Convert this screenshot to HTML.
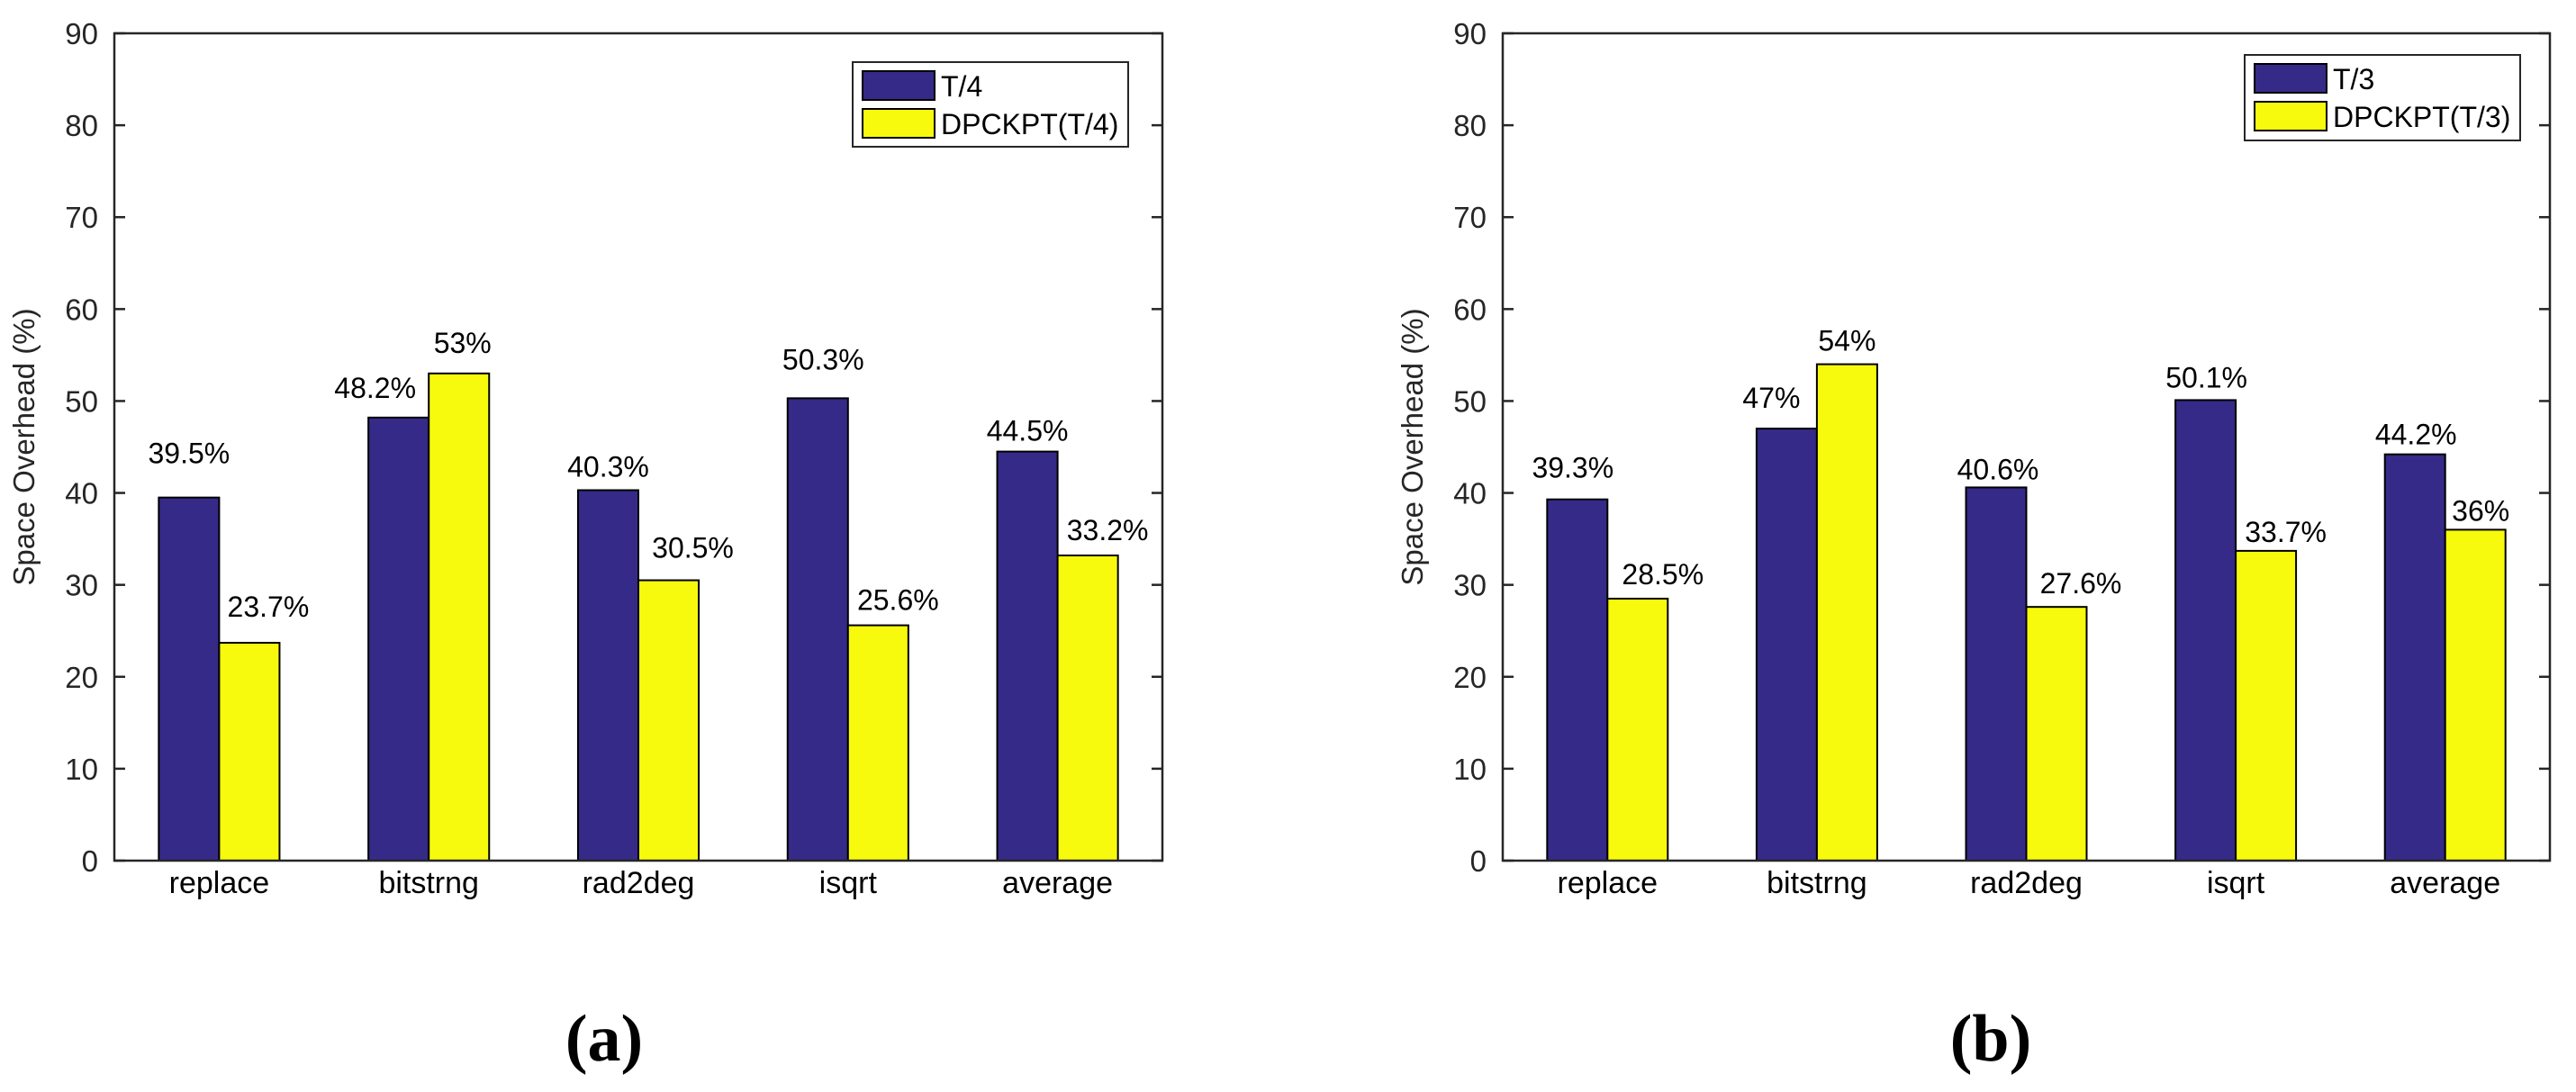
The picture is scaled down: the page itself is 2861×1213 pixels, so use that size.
<!DOCTYPE html>
<html><head><meta charset="utf-8"><style>
html,body{margin:0;padding:0;background:#fff;}
svg{display:block;}
text{font-family:"Liberation Sans",sans-serif;}
</style></head><body>
<svg id="chart" width="2861" height="1213" viewBox="0 0 2861 1213" xmlns="http://www.w3.org/2000/svg"></svg>
<script>
const categories = ["replace","bitstrng","rad2deg","isqrt","average"];
const seriesA1 = [39.5,48.2,40.3,50.3,44.5];
const seriesA2 = [23.7,53,30.5,25.6,33.2];
const seriesB1 = [39.3,47,40.6,50.1,44.2];
const seriesB2 = [28.5,54,27.6,33.7,36];
const yTicks = [0,10,20,30,40,50,60,70,80,90];
const legendA = ["T/4","DPCKPT(T/4)"];
const legendB = ["T/3","DPCKPT(T/3)"];

const NS="http://www.w3.org/2000/svg";
const svgRoot=document.getElementById('chart');
function mk(tag,attrs,parent){const e=document.createElementNS(NS,tag);for(const k in attrs)e.setAttribute(k,attrs[k]);(parent||svgRoot).appendChild(e);return e;}
const COL1="#352a87",COL2="#f8fa0d";
const yTop=37,yBot=956,yMax=90;
function yS(v){return yBot-(v/yMax)*(yBot-yTop);}

const offA={dx1:[0,-26,0,6,0],dy1:[38,22,15,32,12],dx2:[21,4,27,22,22],dy2:[29,23,25,17,17]};
const offB={dx1:[-5,-17,2,1,1],dy1:[24,23,9,14,11],dx2:[28,0,27,22,6],dy2:[16,15,15,10,10]};

function panel(id,left,right,s1,s2,leg,legBox,off,labelX,capX,cap){
  const g=mk('g',{});
  
  
  const unit=(right-left)/5;
  const bw=unit*0.288;
  function xS(i){return left+(i+0.5)*unit;}
  categories.forEach((c,i)=>{
    const cx=xS(i);
    const b1=mk('rect',{x:cx-bw,y:yS(s1[i]),width:bw,height:yBot-yS(s1[i]),fill:COL1,stroke:'#000','stroke-width':2},g);
    
    
    const b2=mk('rect',{x:cx,y:yS(s2[i]),width:bw,height:yBot-yS(s2[i]),fill:COL2,stroke:'#000','stroke-width':2},g);
    
    
    const t1=mk('text',{x:cx-bw/2+off.dx1[i],y:yS(s1[i])-off.dy1[i],'font-size':32,'text-anchor':'middle',fill:'#000'},g);
    t1.textContent=s1[i]+'%';
    
    
    const t2=mk('text',{x:cx+bw/2+off.dx2[i],y:yS(s2[i])-off.dy2[i],'font-size':32,'text-anchor':'middle',fill:'#000'},g);
    t2.textContent=s2[i]+'%';
    
    
    const xl=mk('text',{x:cx,y:992,'font-size':34,'text-anchor':'middle',fill:'#000'},g);
    xl.textContent=c;
    
    
  });
  yTicks.forEach(v=>{
    const y=yS(v);
    mk('line',{x1:left,x2:left+12,y1:y,y2:y,stroke:'#262626','stroke-width':2.5},g);
    mk('line',{x1:right-12,x2:right,y1:y,y2:y,stroke:'#262626','stroke-width':2.5},g);
    const t=mk('text',{x:left-18,y:y+12,'font-size':33,'text-anchor':'end',fill:'#262626'},g);
    t.textContent=v;
    
    
  });
  const ax=mk('rect',{x:left,y:yTop,width:right-left,height:yBot-yTop,fill:'none',stroke:'#262626','stroke-width':2.5},g);
  
  
  const yl=mk('text',{x:0,y:0,'font-size':33,'text-anchor':'middle',fill:'#262626',transform:`translate(${labelX},${(yTop+yBot)/2}) rotate(-90)`},g);
  yl.textContent='Space Overhead (%)';
  
  
  const lg=mk('g',{},g);
  
  
  mk('rect',{x:legBox.x,y:legBox.y,width:legBox.w,height:legBox.h,fill:'#fff',stroke:'#262626','stroke-width':2},lg);
  [COL1,COL2].forEach((col,k)=>{
    const sw=mk('rect',{x:legBox.x+11,y:legBox.y+10+k*42,width:80,height:32,fill:col,stroke:'#000','stroke-width':2},lg);
    
    
    const lt=mk('text',{x:legBox.x+98,y:legBox.y+38+k*42,'font-size':32,fill:'#000'},lg);
    lt.textContent=leg[k];
    
    
  });
  const ct=mk('text',{x:capX,y:1178,'font-size':74,'font-weight':'bold','text-anchor':'middle',fill:'#000',style:'font-family:"Liberation Serif",serif'},g);
  ct.textContent=cap;
  
  
}
panel('a',127,1291,seriesA1,seriesA2,legendA,{x:947,y:69,w:306,h:94,n1:'t4',n2:'dpckpt-t4'},offA,38,671,'(a)');
panel('b',1669,2832,seriesB1,seriesB2,legendB,{x:2493,y:61,w:306,h:95,n1:'t3',n2:'dpckpt-t3'},offB,1580,2211,'(b)');
</script>
</body></html>
